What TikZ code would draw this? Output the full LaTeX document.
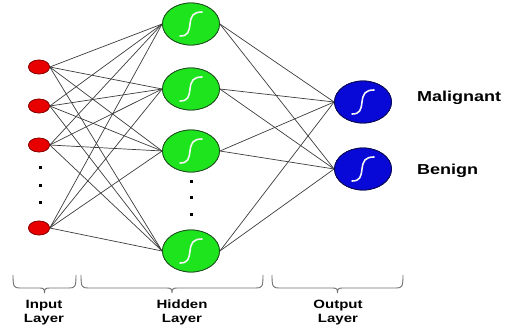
\documentclass[tikz,border=0pt]{standalone}
\usepackage{fontspec}
\setmainfont{Liberation Sans}[FakeStretch=1.25]
\usetikzlibrary{shapes.geometric}
\definecolor{redfill}{RGB}{232,0,0}
\definecolor{redline}{RGB}{130,0,0}
\definecolor{greenfill}{RGB}{30,228,30}
\definecolor{greenline}{RGB}{30,80,30}
\definecolor{bluefill}{RGB}{8,8,215}
\definecolor{blueline}{RGB}{10,10,80}
\definecolor{edgecol}{RGB}{60,60,60}
\definecolor{bracecol}{RGB}{110,110,110}
\tikzset{
  inp/.style={ellipse, draw=redline, fill=redfill, line width=0.6pt, minimum width=21pt, minimum height=14pt, inner sep=0pt},
  hid/.style={ellipse, draw=greenline, fill=greenfill, line width=0.8pt, minimum width=57pt, minimum height=42pt, inner sep=0pt},
  outn/.style={ellipse, draw=blueline, fill=bluefill, line width=0.8pt, minimum width=57pt, minimum height=42pt, inner sep=0pt},
  conn/.style={draw=edgecol, line width=0.7pt},
  sig/.pic={\draw[white!92!gray, line width=1.6pt, line cap=round] (-11,12) .. controls (-3,12) and (-2,8) .. (-1,0) .. controls (0,-8) and (2,-12) .. (11,-12);},
  vdot/.style={fill=black, minimum size=3pt, inner sep=0pt, rectangle},
  bracepath/.style={draw=bracecol, line width=0.9pt},
  lbl/.style={font=\bfseries\fontsize{14.4}{16}\selectfont, anchor=base west, inner sep=0pt},
  layerlbl/.style={font=\bfseries\fontsize{12}{14}\selectfont, align=center, anchor=base, inner sep=0pt},
}
\begin{document}
\begin{tikzpicture}[x=1pt,y=-1pt]
\useasboundingbox (0,0) rectangle (512,329);
% input nodes
\node[inp] (i1) at (39,67) {};
\node[inp] (i2) at (39,106) {};
\node[inp] (i3) at (39,145) {};
\node[inp] (i4) at (39,228) {};
% hidden nodes
\node[hid] (h1) at (191,24) {};
\node[hid] (h2) at (191,89) {};
\node[hid] (h3) at (191,151) {};
\node[hid] (h4) at (191,251) {};
% output nodes
\node[outn] (o1) at (363,102) {};
\node[outn] (o2) at (363,169) {};
% connectors
\foreach \i in {1,2,3,4}{
  \foreach \h in {1,2,3,4}{
    \draw[conn] (i\i.east) -- (h\h.west);
  }
}
\foreach \h in {1,2,3,4}{
  \foreach \o in {1,2}{
    \draw[conn] (h\h.east) -- (o\o.west);
  }
}
% redraw nodes on top
\node[inp] at (i1) {};
\node[inp] at (i2) {};
\node[inp] at (i3) {};
\node[inp] at (i4) {};
\foreach \n in {h1,h2,h3,h4}{ \node[hid] at (\n) {}; \pic at (\n) {sig}; }
\node[outn] at (o1) {}; \pic at (o1) {sig};
\node[outn] at (o2) {}; \pic at (o2) {sig};
% dots
\node[vdot] (d1) at (40,167) {};
\node[vdot] (d2) at (40,185) {};
\node[vdot] (d3) at (40,202) {};
\node[vdot] (d4) at (191,181) {};
\node[vdot] (d5) at (191,197) {};
\node[vdot] (d6) at (191,214) {};
% labels
\node[lbl] (mal) at (417,102) {Malignant};
\node[lbl] (ben) at (417,175) {Benign};
% braces
\foreach \a/\b in {13/76, 81/263, 272/403}{
  \pgfmathsetmacro{\m}{(\a+\b)/2}
  \draw[bracepath] (\a,275) .. controls (\a,287) and (\a+1,288) .. (\a+7,288) -- (\m-5,288) .. controls (\m-1,288) and (\m,289) .. (\m,293) .. controls (\m,289) and (\m+1,288) .. (\m+5,288) -- (\b-7,288) .. controls (\b-1,288) and (\b,287) .. (\b,275);
}
\node[layerlbl] (inl) at (44,322) {Input\\Layer};
\node[layerlbl] (hidl) at (182,322) {Hidden\\Layer};
\node[layerlbl] (outl) at (338,322) {Output\\Layer};
\end{tikzpicture}
\end{document}
